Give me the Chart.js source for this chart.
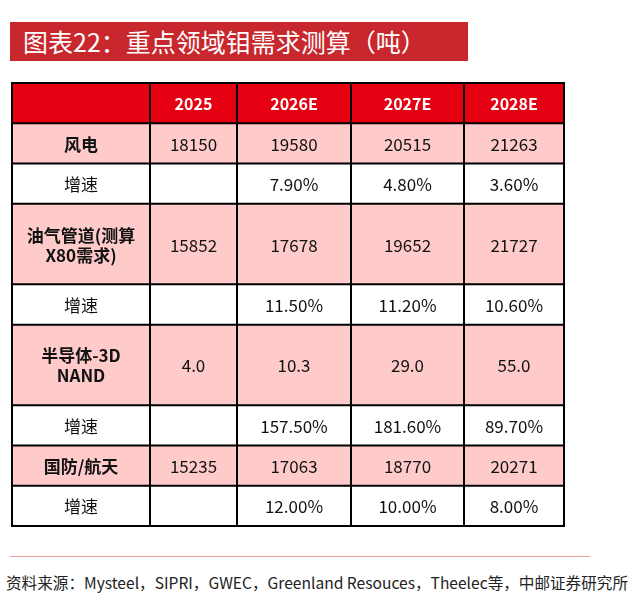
<!DOCTYPE html>
<html>
<head>
<meta charset="utf-8">
<script src="https://cdn.jsdelivr.net/npm/chart.js@4.4.1/dist/chart.umd.min.js"></script>
<style>
    body { margin: 0; width: 642px; height: 600px; background: #fff; position: relative; overflow: hidden; font-family: "Noto Sans CJK SC", "Noto Sans", sans-serif; }
    #title { position: absolute; left: 10px; top: 22px; width: 445px; height: 39px; padding-left: 13px; background: #c8282d; color: #fff; font-size: 25px; line-height: 39px; white-space: nowrap; }
    #holder { position: absolute; left: 10px; top: 81px; width: 556px; height: 447px; }
    #rule { position: absolute; left: 10px; top: 556px; width: 580px; height: 0; border-top: 1.5px solid #e3a39c; }
    #source { position: absolute; left: 6px; top: 571px; font-size: 15.6px; color: #222; white-space: nowrap; }
</style>
</head>
<body>
<div id="title">图表22：重点领域钼需求测算（吨）</div>
<div id="holder"><canvas id="moTable"></canvas></div>
<div id="rule"></div>
<div id="source">资料来源：Mysteel，SIPRI，GWEC，Greenland Resouces，Theelec等，中邮证券研究所</div>
<script>
// số liệu
var years = ['2025', '2026E', '2027E', '2028E'];
var sectorNames = [['风电'], ['油气管道(测算', 'X80需求)'], ['半导体-3D', 'NAND'], ['国防/航天']];
var growthLabel = '增速';

var windPower = [18150, 19580, 20515, 21263];
var windGrowth = [null, 7.9, 4.8, 3.6];
var pipeline = [15852, 17678, 19652, 21727];
var pipelineGrowth = [null, 11.5, 11.2, 10.6];
var nand3d = [4.0, 10.3, 29.0, 55.0];
var nand3dGrowth = [null, 157.5, 181.6, 89.7];
var defense = [15235, 17063, 18770, 20271];
var defenseGrowth = [null, 12.0, 10.0, 8.0];

// bố cục bảng
var colWidths = [138, 87, 114, 113, 100];
var headRed = '#e50012';
var rowPink = '#ffcaca';

function fmtGrowth(v) { return v == null ? '' : v.toFixed(2) + '%'; }

function buildRows() {
    var rows = [];
    rows.push({ span: 1, fill: headRed, head: true, cells: [[''], [years[0]], [years[1]], [years[2]], [years[3]]] });
    var groups = [
        [windPower, windGrowth, function (v) { return String(v); }],
        [pipeline, pipelineGrowth, function (v) { return String(v); }],
        [nand3d, nand3dGrowth, function (v) { return v.toFixed(1); }],
        [defense, defenseGrowth, function (v) { return String(v); }]
    ];
    groups.forEach(function (g, i) {
        var name = sectorNames[i];
        rows.push({ span: name.length, fill: rowPink, bold: true, cells: [name].concat(g[0].map(function (v) { return [g[2](v)]; })) });
        rows.push({ span: 1, fill: '#ffffff', cells: [[growthLabel]].concat(g[1].map(function (v) { return [fmtGrowth(v)]; })) });
    });
    return rows;
}
var tableRows = buildRows();
var totalSpan = 0;
tableRows.forEach(function (r) { totalSpan += r.span; });
var totalWidth = 0;
colWidths.forEach(function (w) { totalWidth += w; });

// plugin vẽ bảng theo trục x/y của chart
var tablePlugin = {
    id: 'moTable',
    afterDraw: function (chart) {
        var ctx = chart.ctx, xs = chart.scales.x, ys = chart.scales.y;
        var edges = [0];
        colWidths.forEach(function (w) { edges.push(edges[edges.length - 1] + w); });
        var top = 0;
        var rowEdges = [0];
        ctx.save();
        tableRows.forEach(function (row) {
            var y0 = ys.getPixelForValue(top), y1 = ys.getPixelForValue(top + row.span);
            row.cells.forEach(function (lines, i) {
                var x0 = xs.getPixelForValue(edges[i]), x1 = xs.getPixelForValue(edges[i + 1]);
                ctx.fillStyle = row.fill;
                ctx.fillRect(x0, y0, x1 - x0, y1 - y0);
                var bold = row.head || (row.bold && i == 0);
                ctx.font = (bold ? 'bold ' : '') + (row.head ? '16px' : '17px') + ' "Noto Sans CJK SC", sans-serif';
                ctx.fillStyle = row.head ? '#ffffff' : '#111111';
                ctx.textAlign = 'center';
                ctx.textBaseline = 'middle';
                var cx = (x0 + x1) / 2, cy = (y0 + y1) / 2;
                var lh = 20;
                lines.forEach(function (t, k) {
                    ctx.fillText(t, cx, cy + (k - (lines.length - 1) / 2) * lh + 1);
                });
            });
            top += row.span;
            rowEdges.push(top);
        });
        ctx.strokeStyle = '#000000';
        ctx.lineWidth = 2;
        ctx.beginPath();
        rowEdges.forEach(function (r) {
            var y = ys.getPixelForValue(r);
            ctx.moveTo(xs.getPixelForValue(0) - 1, y);
            ctx.lineTo(xs.getPixelForValue(totalWidth) + 1, y);
        });
        edges.forEach(function (c) {
            var x = xs.getPixelForValue(c);
            ctx.moveTo(x, ys.getPixelForValue(0));
            ctx.lineTo(x, ys.getPixelForValue(totalSpan));
        });
        ctx.stroke();
        ctx.restore();
    }
};

var ctx__tbl = document.getElementById('moTable');
var moChart = new Chart(ctx__tbl, {
    type: 'bar',
    data: { labels: [], datasets: [] },
    options: {
        responsive: true,
        maintainAspectRatio: false,
        animation: false,
        layout: { padding: 2 },
        plugins: { legend: { display: false }, tooltip: { enabled: false } },
        scales: {
            x: { type: 'linear', min: 0, max: totalWidth, offset: false, display: false },
            y: { type: 'linear', min: 0, max: totalSpan, offset: false, reverse: true, display: false }
        }
    },
    plugins: [tablePlugin]
});
</script>
</body>
</html>
